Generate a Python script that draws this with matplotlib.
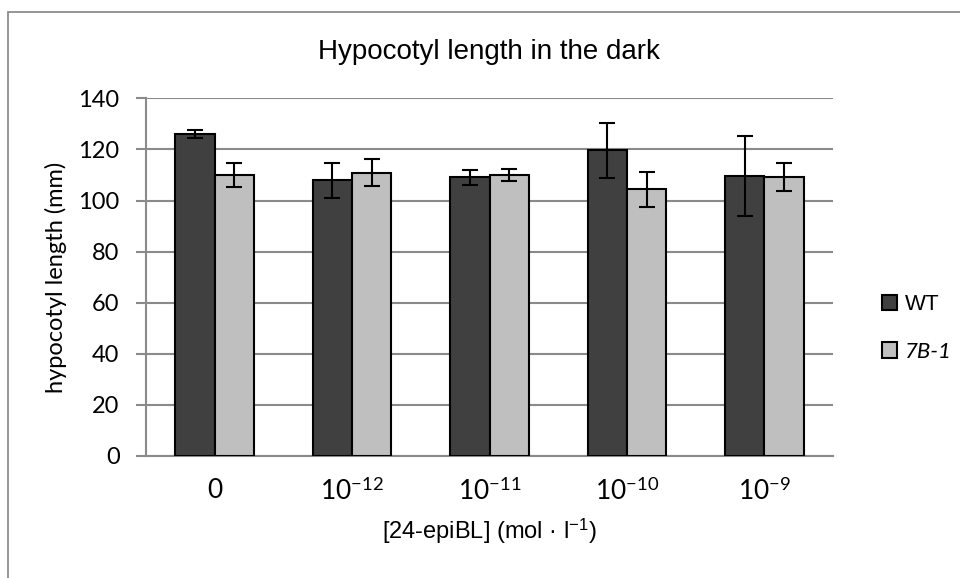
import numpy as np
import matplotlib
matplotlib.use("Agg")
from matplotlib import pyplot as plt
from matplotlib.patches import Rectangle

plt.rcParams['font.family'] = ['Liberation Sans', 'DejaVu Sans']
plt.rcParams['mathtext.fontset'] = 'custom'
plt.rcParams['mathtext.rm'] = 'Lato'
plt.rcParams['mathtext.it'] = 'Lato:italic'

# data
categories = ["0", "$10^{-12}$", "$10^{-11}$", "$10^{-10}$", "$10^{-9}$"]
wt_vals = [126.0, 107.9, 109.1, 119.6, 109.6]
wt_err = [1.5, 6.9, 2.9, 10.8, 15.8]
b7_vals = [109.9, 110.9, 110.0, 104.4, 109.1]
b7_err = [4.8, 5.4, 2.5, 6.8, 5.5]

W, H = 960, 578
fig = plt.figure(figsize=(W / 100, H / 100), dpi=100)
fig.patch.set_facecolor("white")

# chart border (only left/top visible in the crop)
fig.patches.append(Rectangle((8 / W, -0.1), 1.2, 1.1 - 12 / H, transform=fig.transFigure,
                             fill=False, edgecolor="#8c8c8c", lw=1.3))

x0, x1, ytop, ybot = 146, 833, 98.3, 456
ax = fig.add_axes([x0 / W, (H - ybot) / H, (x1 - x0) / W, (ybot - ytop) / H])

x = np.arange(len(categories))
bw = 1 / 3.5
ekw = dict(ecolor="black", elinewidth=1.5, capsize=5.5, capthick=1.5)
ax.bar(x - bw / 2, wt_vals, bw, yerr=wt_err, color="#404040", edgecolor="black",
       lw=1.5, error_kw=ekw, label="WT", zorder=3)
ax.bar(x + bw / 2, b7_vals, bw, yerr=b7_err, color="#bfbfbf", edgecolor="black",
       lw=1.5, error_kw=ekw, label="7B-1", zorder=3)

ax.set_xlim(-0.5, len(categories) - 0.5)
ax.set_ylim(0, 140)
ax.set_yticks(range(0, 141, 20))
ax.yaxis.grid(True, color="#8a8a8a", lw=1.5)
ax.set_axisbelow(True)
for s in ["top", "right"]:
    ax.spines[s].set_visible(False)
for s in ["left", "bottom"]:
    ax.spines[s].set_color("#8a8a8a")
    ax.spines[s].set_linewidth(1.5)
ax.tick_params(axis="y", length=7, width=1.5, color="#8a8a8a", labelsize=17, pad=12)
ax.tick_params(axis="x", length=0, pad=16)
for t in ax.get_yticklabels():
    t.set_family(['Lato', 'DejaVu Sans'])
ax.set_xticks(x)
ax.set_xticklabels(categories, fontsize=19, family=['Lato', 'DejaVu Sans'])

ax.set_ylabel("hypocotyl length (mm)", fontsize=17, labelpad=8, family=['Lato', 'DejaVu Sans'])
ax.set_xlabel("[24-epiBL] (mol · l$^{\\mathregular{-1}}$)", fontsize=17, labelpad=8)
ax.set_title("Hypocotyl length in the dark", fontsize=20, pad=28)

leg = fig.legend(loc="center left", bbox_to_anchor=(862 / W, (H - 328) / H), frameon=False,
                 handlelength=0.68, handleheight=0.68, handletextpad=0.35,
                 labelspacing=1.2, prop={'size': 16})
for h in leg.legend_handles:
    h.set_linewidth(1.5)
leg.get_texts()[1].set_family(['Lato', 'DejaVu Sans'])
leg.get_texts()[1].set_style("italic")

fig.savefig("out.png", dpi=100)
